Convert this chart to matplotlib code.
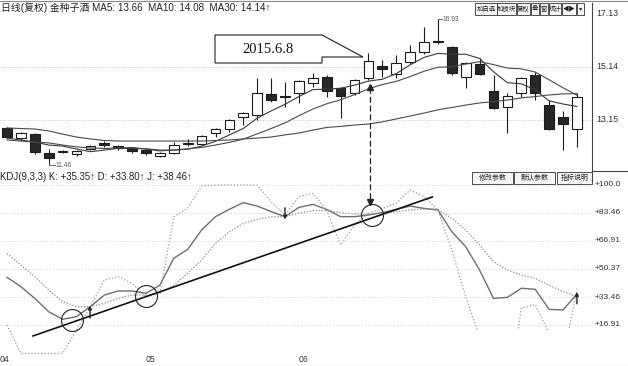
import matplotlib
matplotlib.use('Agg')
import matplotlib.pyplot as plt
from matplotlib.patches import Rectangle, Polygon, ConnectionPatch
from matplotlib.lines import Line2D

plt.rcParams['font.family'] = ['Liberation Sans', 'Noto Sans CJK SC', 'DejaVu Sans']

# daily candles, 2015-04 .. 2015-06
opens = [12.85, 12.47, 12.62, 11.91, 11.95, 11.87, 12.06, 12.29, 12.17, 12.06,
         12.02, 11.80, 11.91, 12.25, 12.25, 12.66, 12.81, 13.26, 13.34, 14.13,
         14.03, 14.16, 14.54, 14.77, 14.35, 14.16, 14.73, 15.18, 14.88, 15.33,
         15.70, 16.06, 15.89, 14.77, 15.25, 14.24, 13.64, 14.16, 14.84, 13.71,
         13.26, 12.81]
closes = [12.51, 12.66, 11.95, 11.72, 11.99, 11.99, 12.17, 12.21, 12.08, 11.97,
          11.91, 11.91, 12.21, 12.27, 12.55, 12.81, 13.15, 13.41, 14.16, 13.90,
          14.05, 14.61, 14.73, 14.24, 14.05, 14.65, 15.37, 15.08, 15.29, 15.70,
          16.08, 16.12, 14.92, 15.29, 14.88, 13.60, 14.05, 14.73, 14.16, 12.81,
          13.00, 14.01]
highs = [12.89, 12.70, 12.66, 12.06, 12.02, 12.02, 12.21, 12.36, 12.21, 12.14,
         12.10, 11.95, 12.32, 12.44, 12.59, 12.85, 13.19, 13.45, 14.73, 14.73,
         14.58, 14.65, 14.92, 14.84, 14.39, 14.69, 15.67, 15.40, 15.59, 15.97,
         16.64, 16.93, 15.93, 15.33, 15.48, 14.84, 14.16, 14.77, 14.95, 13.90,
         13.49, 14.16]
lows = [12.47, 12.36, 11.87, 11.46, 11.91, 11.80, 12.02, 12.14, 12.02, 11.91,
        11.84, 11.76, 11.87, 12.17, 12.21, 12.51, 12.70, 12.96, 13.15, 13.83,
        13.64, 13.79, 14.39, 14.01, 13.23, 14.09, 14.65, 14.77, 14.73, 15.25,
        15.63, 16.00, 14.84, 14.35, 14.84, 13.56, 12.66, 14.01, 13.90, 12.77,
        12.02, 12.14]

ma5 = [12.47, 12.40, 12.32, 12.21, 12.17, 12.06, 11.96, 12.02, 12.09, 12.08,
       12.07, 12.02, 12.02, 12.05, 12.17, 12.35, 12.59, 12.83, 13.22, 13.49,
       13.74, 14.03, 14.29, 14.31, 14.34, 14.46, 14.61, 14.68, 14.89, 15.22,
       15.50, 15.65, 15.62, 15.62, 15.46, 14.96, 14.55, 14.51, 14.28, 13.87,
       13.75, 13.66]
ma10 = [12.40, 12.36, 12.32, 12.29, 12.21, 12.14, 12.10, 12.08, 12.10, 12.12,
        12.06, 11.99, 12.02, 12.07, 12.12, 12.21, 12.31, 12.43, 12.63, 12.83,
        13.04, 13.31, 13.56, 13.76, 13.91, 14.10, 14.32, 14.48, 14.60, 14.78,
        14.98, 15.13, 15.15, 15.25, 15.34, 15.23, 15.10, 15.07, 14.95, 14.66,
        14.36, 14.08]
ma30 = [12.85, 12.83, 12.81, 12.74, 12.62, 12.51, 12.44, 12.38, 12.36, 12.36,
        12.36, 12.36, 12.36, 12.36, 12.36, 12.38, 12.40, 12.44, 12.47, 12.51,
        12.59, 12.66, 12.77, 12.87, 12.91, 12.96, 13.00, 13.08, 13.19, 13.30,
        13.41, 13.53, 13.62, 13.71, 13.79, 13.84, 13.90, 13.98, 14.03, 14.09,
        14.13, 14.14]

k_vals = [45.2, 39.7, 32.7, 24.8, 20.3, 21.9, 27.8, 34.7, 37.1, 37.1,
          35.7, 40.6, 56.5, 61.8, 73.3, 81.2, 85.6, 89.5, 87.5, 84.2,
          81.2, 86.7, 88.5, 85.5, 81.2, 81.2, 82.2, 83.6, 85.5, 87.5,
          86.1, 85.2, 72.3, 63.4, 49.5, 32.7, 33.3, 38.7, 38.1, 26.2,
          25.8, 35.35]
d_vals = [59.4, 52.5, 45.6, 37.7, 30.8, 27.8, 27.8, 29.8, 32.7, 34.7,
          34.7, 35.7, 40.6, 47.6, 55.5, 65.4, 72.3, 77.2, 79.6, 81.2,
          81.2, 83.2, 84.8, 84.8, 83.6, 82.8, 82.6, 83.2, 84.2, 85.2,
          85.8, 85.6, 80.2, 73.3, 64.4, 54.5, 49.5, 46.6, 44.6, 40.6,
          36.7, 33.80]
j_vals = [16.9, 0, 0, 0, 0, 14.0, 27.8, 43.6, 45.6, 41.6,
          33.7, 35.7, 81.2, 86.2, 99.4, 100, 100, 100, 100, 90.1,
          82.2, 93.1, 95.0, 85.0, 64.4, 76.3, 83.2, 86.1, 89.1, 97.0,
          93.1, 85.2, 61.4, 33.7, 10.0, -20.0, -30.0, 27.0, 29.0, 12.0,
          -5.0, 38.46]

price_ticks = [17.13, 15.14, 13.15]
kdj_ticks = [100.0, 83.46, 66.91, 50.37, 33.46, 16.91]
kdj_tick_labels = ['+100.0', '+83.46', '+66.91', '+50.37', '+33.46', '+16.91']
month_labels = ['04', '05', '06']
month_pos = [-0.5, 10, 21]

W, H = 628, 366
def fx(x):
    return x / W
def fy(y):
    return 1 - y / H

fig = plt.figure(figsize=(6.28, 3.66), dpi=100)
ax1 = fig.add_axes([0, fy(170), fx(592), (170 - 12) / H])
ax2 = fig.add_axes([0, fy(356), fx(592), (356 - 170) / H])
xs = list(range(len(opens)))
for ax in (ax1, ax2):
    ax.set_xlim(-0.5036, 42.086)
    ax.axis('off')
ax1.set_ylim(11.2725, 17.205)
ax2.set_ylim(-1.49, 108.9)

ink = '#1c1c1c'
# grid
for v in price_ticks[1:]:
    ax1.axhline(v, color='#b5b5b5', lw=0.6, ls=(0, (1, 2)), zorder=0)
for v in kdj_ticks:
    ax2.axhline(v, color='#c4c4c4', lw=0.6, ls=(0, (1, 2.5)), zorder=0)

# candles
ax1.vlines(xs, lows, highs, color=ink, lw=0.8, zorder=2)
for i in xs:
    up = closes[i] >= opens[i]
    h = max(abs(closes[i] - opens[i]), 0.02)
    ax1.bar(i, h, bottom=min(opens[i], closes[i]), width=0.7,
            facecolor='white' if up else '#262626', edgecolor=ink, lw=0.8, zorder=3)

ax1.plot(xs, ma5, color='#3a3a3a', lw=0.8, zorder=4)
ax1.plot(xs, ma10, color='#4a4a4a', lw=0.8, zorder=4)
ax1.plot(xs, ma30, color='#4a4a4a', lw=0.8, zorder=4)

# high / low markers
ax1.plot([31, 31.3], [16.93, 16.93], color='#555', lw=0.6)
ax1.text(31.35, 16.93, '16.93', fontsize=4.8, color='#555', va='center')
ax1.plot([3, 3, 3.45], [11.52, 11.46, 11.46], color='#555', lw=0.6)
ax1.text(3.5, 11.46, '11.46', fontsize=4.8, color='#555', va='center')

for v in price_ticks:
    ax1.text(1.007, v, '%.2f' % v, transform=ax1.get_yaxis_transform(),
             fontsize=6.3, color='#333', va='center', clip_on=False)

# KDJ
ax2.plot(xs, k_vals, color='#6e6e6e', lw=1.0, zorder=3)
ax2.plot(xs, d_vals, color='#8c8c8c', lw=0.9, ls=(0, (1, 1.4)), zorder=3)
ax2.plot(xs[:27], j_vals[:27], color='#9a9a9a', lw=0.9, ls=(0, (1, 1.6)), zorder=3)
jr, = ax2.plot(xs[26:], j_vals[26:], color='#9a9a9a', lw=0.9, ls=(0, (1, 1.6)), zorder=3)
jr.set_clip_path(Rectangle((26, 14), 20, 100, transform=ax2.transData))

for v, lab in zip(kdj_ticks, kdj_tick_labels):
    ax2.text(1.005, v, lab, transform=ax2.get_yaxis_transform(),
             fontsize=6.1, color='#333', va='center', clip_on=False)
for p, lab in zip(month_pos, month_labels):
    ax2.text(p, -0.02, lab, transform=ax2.get_xaxis_transform(),
             fontsize=6.3, color='#333', va='center', ha='left', clip_on=False)

# trend line and circles
ax2.plot([1.87, 30.6], [10.4, 92.9], color='#111', lw=1.2, zorder=5)
for cx, cy in [(4.68, 19.9), (9.99, 34.2), (26.24, 81.9)]:
    ax2.plot(cx, cy, marker='o', ms=15.8, mfc='none', mec='#222', mew=0.8, zorder=6)
# small arrows
for bx, y0, y1 in [(5.97, 21.0, 28.5), (20.0, 86.5, 79.5), (41.0, 29.5, 36.5)]:
    ax2.annotate('', xy=(bx, y1), xytext=(bx, y0),
                 arrowprops=dict(arrowstyle='-|>', color='#222', lw=1.0,
                                 mutation_scale=5, shrinkA=0, shrinkB=0), zorder=6)

# dashed double arrow across panels
con = ConnectionPatch(xyA=(26.15, 14.33), coordsA=ax1.transData,
                      xyB=(26.15, 91.0), coordsB=ax2.transData,
                      color='#222', lw=0.9, ls=(0, (4, 3)))
fig.add_artist(con)
ax1.plot(26.15, 14.40, marker='^', ms=4, color='#222', clip_on=False, zorder=6)
ax2.plot(26.15, 90.2, marker='v', ms=4, color='#222', clip_on=False, zorder=6)

# callout box
pts = [(215, 35), (322, 35), (363, 57), (322, 57), (322, 63), (215, 63)]
fig.add_artist(Polygon([(fx(a), fy(b)) for a, b in pts], closed=True, fill=True,
                       fc='white', ec='#222', lw=0.8, transform=fig.transFigure))
fig.text(fx(268), fy(49.5), '2015.6.8', family='Liberation Serif', fontsize=10.5,
         ha='center', va='center', color='#111')

# header texts
fig.text(fx(1), fy(8), '日线(复权) 金种子酒 MA5: 13.66  MA10: 14.08  MA30: 14.14↑',
         fontsize=7.1, color='#222', va='center')
fig.text(fx(0), fy(177.5), 'KDJ(9,3,3) K: +35.35↑ D: +33.80↑ J: +38.46↑',
         fontsize=6.9, color='#222', va='center')

def button(x0, x1, y0, y1, label, fs):
    fig.add_artist(Rectangle((fx(x0), fy(y1)), fx(x1 - x0), (y1 - y0) / H,
                             fc='#f6f6f6', ec='#333', lw=0.6, transform=fig.transFigure))
    fig.text(fx((x0 + x1) / 2), fy((y0 + y1) / 2), label, fontsize=fs,
             ha='center', va='center', color='#222')

top_btns = [(475, 497, '加自选'), (497, 516, '加板块'), (517, 530, '复权'),
            (531, 539, '叠'), (540, 548, '窗'), (549, 561, '统计'),
            (562, 576, '◀▶'), (577, 584, '▾')]
for x0, x1, lab in top_btns:
    button(x0, x1, 3, 15, lab, 4.6)
for x0, x1, lab in [(472, 513, '修改参数'), (514, 555, '默认参数'), (557, 592, '指标说明')]:
    button(x0, x1, 172, 184, lab, 5.0)

# frame lines
fig.add_artist(Line2D([fx(592), fx(592)], [fy(3), fy(181)], color='#444', lw=0.8))
fig.add_artist(Line2D([fx(592), 1], [fy(171), fy(171)], color='#444', lw=0.8))
fig.add_artist(Line2D([0, 1], [fy(0.5), fy(0.5)], color='#888', lw=0.8))
fig.add_artist(Line2D([0, 1], [fy(365.5), fy(365.5)], color='#aaa', lw=0.8))

fig.savefig('out.png', dpi=100)
